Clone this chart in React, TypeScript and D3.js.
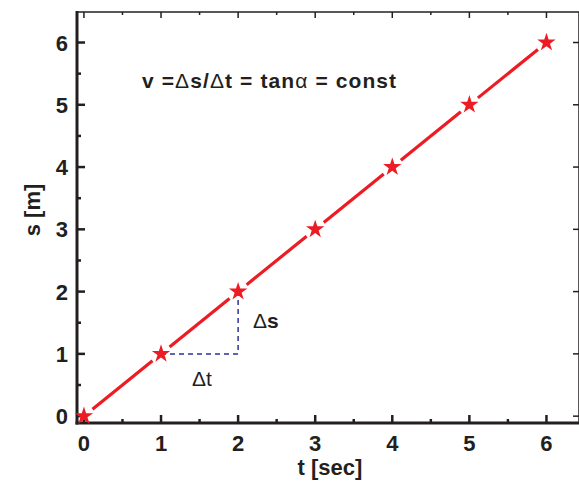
import { useEffect, useRef } from 'react';
import * as d3 from 'd3';

const times = [0, 1, 2, 3, 4, 5, 6];
const distances = [0, 1, 2, 3, 4, 5, 6];
const majorTicks = [0, 1, 2, 3, 4, 5, 6];
const minorTicks = [0.5, 1.5, 2.5, 3.5, 4.5, 5.5];
const deltaT = [1, 2];
const deltaS = [1, 2];

const W = 579;
const H = 483;
const RED = '#ed1c24';
const BLUE = '#2e3192';
const INK = '#231f20';
const FONT = 'Liberation Sans, Arial, Helvetica, sans-serif';

export default function App() {
  const ref = useRef<SVGSVGElement>(null);

  useEffect(() => {
    if (!ref.current) return;
    const svg = d3.select(ref.current);
    svg.selectAll('*').remove();

    const left = 77;
    const right = 585;
    const top = 12;
    const bottom = 423;

    const x = d3.scaleLinear().domain([-0.09, 6.5]).range([left, right]);
    const y = d3.scaleLinear().domain([-0.11, 6.49]).range([bottom, top]);

    const g = svg.append('g');

    // top and right frame (thin) with inward ticks
    g.append('line')
      .attr('x1', left).attr('x2', right).attr('y1', top).attr('y2', top)
      .style('stroke', INK).style('stroke-width', 1.5);
    g.append('line')
      .attr('x1', right - 6).attr('x2', right - 6).attr('y1', top).attr('y2', bottom)
      .style('stroke', INK).style('stroke-width', 1.5);

    g.selectAll('line.topmaj')
      .data(majorTicks)
      .join('line')
      .attr('x1', d => x(d)).attr('x2', d => x(d))
      .attr('y1', top).attr('y2', top + 6)
      .style('stroke', INK).style('stroke-width', 1.5);
    g.selectAll('line.topmin')
      .data(minorTicks)
      .join('line')
      .attr('x1', d => x(d)).attr('x2', d => x(d))
      .attr('y1', top).attr('y2', top + 3)
      .style('stroke', INK).style('stroke-width', 1.5);
    g.selectAll('line.rightmaj')
      .data(majorTicks)
      .join('line')
      .attr('x1', right - 6).attr('x2', right - 12)
      .attr('y1', d => y(d)).attr('y2', d => y(d))
      .style('stroke', INK).style('stroke-width', 1.5);

    // bottom axis (thick)
    g.append('line')
      .attr('x1', left - 1.5).attr('x2', right).attr('y1', bottom).attr('y2', bottom)
      .style('stroke', INK).style('stroke-width', 3);
    g.selectAll('line.bmaj')
      .data(majorTicks)
      .join('line')
      .attr('x1', d => x(d)).attr('x2', d => x(d))
      .attr('y1', bottom).attr('y2', bottom - 8)
      .style('stroke', INK).style('stroke-width', 2.5);
    g.selectAll('line.bmin')
      .data(minorTicks)
      .join('line')
      .attr('x1', d => x(d)).attr('x2', d => x(d))
      .attr('y1', bottom).attr('y2', bottom - 4)
      .style('stroke', INK).style('stroke-width', 2.5);
    g.selectAll('text.bl')
      .data(majorTicks)
      .join('text')
      .attr('x', d => x(d))
      .attr('y', 451)
      .attr('text-anchor', 'middle')
      .style('font-family', FONT)
      .style('font-weight', 'bold')
      .style('font-size', '22px')
      .style('fill', INK)
      .text(d => d);

    // left axis (thick)
    g.append('line')
      .attr('x1', left).attr('x2', left).attr('y1', top - 1).attr('y2', bottom + 1.5)
      .style('stroke', INK).style('stroke-width', 3);
    g.selectAll('line.lmaj')
      .data(majorTicks)
      .join('line')
      .attr('x1', left).attr('x2', left + 8)
      .attr('y1', d => y(d)).attr('y2', d => y(d))
      .style('stroke', INK).style('stroke-width', 2.5);
    g.selectAll('line.lmin')
      .data(minorTicks)
      .join('line')
      .attr('x1', left).attr('x2', left + 4)
      .attr('y1', d => y(d)).attr('y2', d => y(d))
      .style('stroke', INK).style('stroke-width', 2.5);
    g.selectAll('text.ll')
      .data(majorTicks)
      .join('text')
      .attr('x', 68)
      .attr('y', d => y(d) + 8)
      .attr('text-anchor', 'end')
      .style('font-family', FONT)
      .style('font-weight', 'bold')
      .style('font-size', '22px')
      .style('fill', INK)
      .text(d => d);

    // axis titles
    svg.append('text')
      .attr('x', 330).attr('y', 475)
      .attr('text-anchor', 'middle')
      .style('font-family', FONT).style('font-weight', 'bold').style('font-size', '22px')
      .style('fill', INK)
      .text('t [sec]');
    svg.append('text')
      .attr('transform', `translate(40,210) rotate(-90)`)
      .attr('text-anchor', 'middle')
      .style('font-family', FONT).style('font-weight', 'bold').style('font-size', '22px')
      .style('fill', INK)
      .text('s [m]');

    // dashed triangle
    const tri: [number, number][] = [
      [deltaT[0], deltaS[0]],
      [deltaT[1], deltaS[0]],
      [deltaT[1], deltaS[1]],
    ];
    svg.append('path')
      .attr('d', d3.line<[number, number]>().x(d => x(d[0])).y(d => y(d[1]))(tri))
      .style('fill', 'none')
      .style('stroke', BLUE)
      .style('stroke-width', 1.5)
      .style('stroke-dasharray', '5,4');

    // line segments with gaps around markers
    const pts = times.map((t, i) => [x(t), y(distances[i])] as [number, number]);
    const gap = 11;
    const segs = d3.pairs(pts).map(([a, b]) => {
      const dx = b[0] - a[0];
      const dy = b[1] - a[1];
      const len = Math.hypot(dx, dy);
      const ux = dx / len;
      const uy = dy / len;
      return [
        [a[0] + ux * gap, a[1] + uy * gap],
        [b[0] - ux * gap, b[1] - uy * gap],
      ] as [number, number][];
    });
    svg.selectAll('path.seg')
      .data(segs)
      .join('path')
      .attr('d', d => d3.line()(d))
      .style('fill', 'none')
      .style('stroke', RED)
      .style('stroke-width', 3.2);

    const star = d3.symbol().type(d3.symbolStar).size(105);
    svg.selectAll('path.star')
      .data(pts)
      .join('path')
      .attr('transform', d => `translate(${d[0]},${d[1]})`)
      .attr('d', star()!)
      .style('fill', RED);

    // annotations
    const formula = svg.append('text')
      .attr('x', 142).attr('y', 88)
      .style('font-family', FONT).style('font-size', '21px').style('fill', INK)
      .style('letter-spacing', '1.1px');
    formula.append('tspan').style('font-weight', 'bold').text('v =');
    formula.append('tspan').text('Δ');
    formula.append('tspan').style('font-weight', 'bold').text('s/');
    formula.append('tspan').text('Δ');
    formula.append('tspan').style('font-weight', 'bold').text('t = tan');
    formula.append('tspan').text('α');
    formula.append('tspan').style('font-weight', 'bold').text(' = const');

    const ds = svg.append('text')
      .attr('x', 253).attr('y', 328)
      .style('font-family', FONT).style('font-size', '21px').style('fill', INK);
    ds.append('tspan').text('Δ');
    ds.append('tspan').style('font-weight', 'bold').text('s');

    svg.append('text')
      .attr('x', 192).attr('y', 386)
      .style('font-family', FONT).style('font-size', '21px').style('fill', INK)
      .text('Δt');
  }, []);

  return (
    <svg
      ref={ref}
      width={W}
      height={H}
      viewBox={`0 0 ${W} ${H}`}
      style={{ position: 'absolute', left: 0, top: 0, background: '#fff' }}
    />
  );
}
